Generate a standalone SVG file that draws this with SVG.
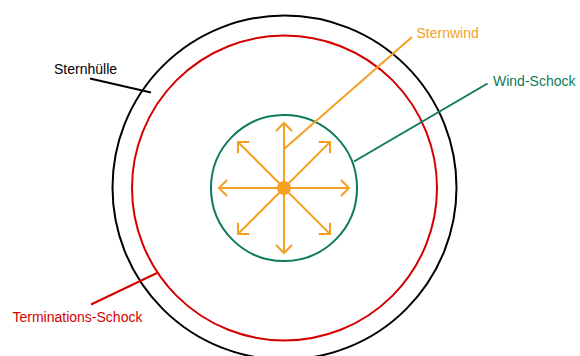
<svg xmlns="http://www.w3.org/2000/svg" width="580" height="356" viewBox="0 0 580 356">
<style>
.lbl{font-family:"Liberation Sans",Arial,sans-serif;font-size:14px}
.ring{fill:none;stroke-width:2}
.wind{stroke:#F5A024;stroke-width:2;fill:none}
</style>
<defs>
<marker id="chev" markerUnits="userSpaceOnUse" markerWidth="20" markerHeight="20" refX="0" refY="0" viewBox="-12 -10 14 20" orient="auto">
<path d="M-8,-8 L0,0 L-8,8" fill="none" stroke="#F5A024" stroke-width="2"/>
</marker>
</defs>
<rect width="580" height="356" fill="#fff"/>
<g id="sternhuelle"><circle class="ring" cx="284.5" cy="187.5" r="172" stroke="#000"/></g>
<g id="terminationsschock"><circle class="ring" cx="284.5" cy="188" r="152.5" stroke="#D40000"/></g>
<g id="windschock"><circle class="ring" cx="284" cy="188" r="73" stroke="#0E7A5A"/></g>
<g id="sternwind">
<g class="wind" marker-end="url(#chev)">
<line x1="284" y1="188" x2="284" y2="123"/>
<line x1="284" y1="188" x2="284" y2="253"/>
<line x1="284" y1="188" x2="219" y2="188"/>
<line x1="284" y1="188" x2="349" y2="188"/>
<line x1="284" y1="188" x2="330" y2="142"/>
<line x1="284" y1="188" x2="238" y2="142"/>
<line x1="284" y1="188" x2="330" y2="234"/>
<line x1="284" y1="188" x2="238" y2="234"/>
</g>
<circle cx="284" cy="188" r="7" fill="#F5A024"/>
</g>
<g id="connectors" stroke-width="2">
<line x1="284" y1="149" x2="412" y2="37" stroke="#F5A024"/>
<line x1="354" y1="161.5" x2="487.5" y2="83.5" stroke="#0E7A5A"/>
<line x1="90" y1="78.5" x2="151" y2="92.5" stroke="#000"/>
<line x1="91" y1="304.5" x2="157" y2="273" stroke="#D40000"/>
</g>
<g id="labels">
<text class="lbl" x="416.5" y="38" fill="#F5A024">Sternwind</text>
<text class="lbl" x="493" y="86" fill="#0E7A5A">Wind-Schock</text>
<text class="lbl" x="54" y="74" fill="#000">Sternhülle</text>
<text class="lbl" x="12.5" y="322" fill="#D40000">Terminations-Schock</text>
</g>
</svg>
